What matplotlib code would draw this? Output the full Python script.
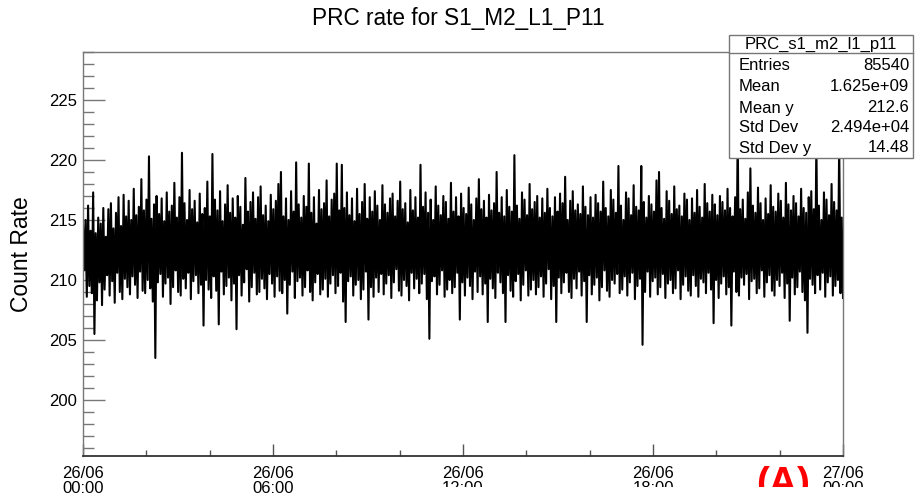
import matplotlib
matplotlib.use('Agg')
import matplotlib.pyplot as plt
import matplotlib.dates as mdates
from matplotlib.patches import Rectangle
from datetime import datetime

plt.rcParams['font.family'] = ['Liberation Sans', 'DejaVu Sans']

# PRC count rate (600 samples over the day)
count_rate = [
    214.6, 210.8, 215.0, 208.6, 216.2, 209.5, 214.1, 208.9, 217.3, 205.5, 213.9, 208.3, 215.2, 209.8, 214.7, 207.9, 216.0, 209.2, 213.6, 210.4,
    215.9, 208.7, 216.4, 209.9, 214.3, 208.1, 215.6, 210.6, 216.9, 209.0, 214.5, 208.4, 217.1, 210.1, 215.3, 209.4, 216.6, 208.8, 215.0, 210.3,
    217.6, 209.6, 215.4, 208.5, 216.1, 210.7, 218.4, 209.1, 215.8, 208.9, 216.7, 210.0, 220.3, 209.3, 215.1, 208.2, 216.3, 203.5, 217.0, 209.8,
    215.5, 210.5, 216.8, 208.6, 214.9, 209.7, 217.3, 210.2, 215.7, 208.0, 216.2, 209.4, 218.1, 210.8, 215.2, 209.0, 216.9, 208.7, 220.6, 210.1,
    216.4, 209.3, 215.0, 210.6, 217.5, 208.4, 215.9, 209.9, 216.6, 210.4, 214.8, 208.9, 217.2, 209.6, 215.5, 206.2, 216.0, 210.0, 218.2, 209.2,
    215.3, 208.5, 220.5, 210.3, 216.7, 209.1, 215.8, 206.3, 217.4, 210.7, 214.9, 208.8, 216.3, 209.5, 217.9, 210.2, 215.6, 208.3, 216.8, 209.7,
    215.2, 205.9, 217.0, 210.4, 216.1, 208.7, 214.6, 209.8, 218.5, 210.9, 215.7, 208.2, 216.5, 209.4, 217.3, 210.6, 215.1, 208.8, 216.9, 209.0,
    217.8, 210.1, 215.4, 209.3, 216.2, 208.4, 214.9, 210.5, 217.1, 209.7, 215.9, 208.6, 216.6, 210.3, 218.0, 209.1, 219.0, 208.9, 215.3, 210.0,
    216.8, 207.2, 215.0, 209.6, 217.4, 210.7, 215.7, 208.5, 219.8, 209.9, 216.3, 210.2, 215.2, 208.7, 217.0, 209.4, 216.1, 210.8, 219.7, 209.0,
    215.6, 208.3, 216.9, 209.8, 214.7, 210.5, 217.5, 208.8, 215.9, 209.2, 216.4, 210.1, 218.3, 208.6, 215.3, 209.7, 216.7, 210.4, 217.2, 208.9,
    219.7, 209.5, 215.8, 210.6, 219.6, 208.2, 216.0, 206.5, 217.3, 209.9, 215.4, 210.3, 216.8, 208.7, 214.9, 209.6, 217.6, 210.0, 215.5, 208.4,
    216.5, 209.2, 218.0, 210.7, 215.1, 206.7, 216.9, 209.4, 215.7, 208.6, 217.4, 210.2, 216.2, 209.0, 215.0, 210.5, 217.9, 208.8, 216.3, 209.7,
    215.6, 210.4, 216.8, 208.5, 217.2, 209.8, 215.3, 210.9, 216.6, 209.1, 218.2, 208.7, 215.9, 210.0, 216.4, 209.5, 214.8, 208.3, 217.5, 210.6,
    215.8, 209.3, 216.9, 210.1, 215.2, 208.9, 219.6, 209.7, 216.1, 210.5, 217.3, 208.4, 215.6, 205.1, 216.7, 209.9, 215.0, 210.3, 217.8, 208.8,
    216.2, 209.6, 215.4, 210.8, 217.0, 208.6, 216.5, 209.2, 215.1, 210.0, 218.1, 208.9, 215.7, 209.4, 216.9, 210.6, 215.3, 206.7, 217.2, 209.8,
    216.0, 208.7, 215.5, 210.2, 217.7, 209.5, 216.3, 208.4, 215.0, 210.7, 216.8, 209.0, 218.4, 210.3, 215.9, 208.8, 216.6, 209.7, 215.2, 206.5,
    217.1, 210.1, 215.8, 209.3, 216.4, 208.5, 219.0, 210.6, 215.6, 209.8, 216.9, 208.9, 215.3, 206.5, 217.5, 210.4, 216.1, 209.1, 215.7, 208.6,
    220.4, 209.9, 216.2, 210.5, 215.1, 208.3, 217.3, 209.6, 216.7, 210.8, 215.4, 208.7, 218.0, 209.2, 215.9, 210.0, 216.5, 208.8, 217.0, 209.4,
    215.2, 210.3, 216.8, 208.6, 215.6, 209.7, 217.6, 210.9, 216.0, 208.4, 215.3, 209.5, 216.9, 206.5, 215.7, 210.2, 217.2, 208.9, 216.4, 209.8,
    218.6, 210.6, 215.0, 209.0, 216.6, 208.5, 217.4, 210.1, 215.8, 209.3, 216.3, 210.7, 215.5, 208.7, 217.8, 209.9, 216.1, 206.5, 215.4, 210.4,
    216.9, 208.8, 215.2, 209.6, 217.1, 210.2, 216.4, 208.3, 215.7, 209.4, 218.2, 210.8, 216.0, 209.1, 215.3, 208.6, 217.5, 210.0, 216.7, 209.7,
    215.6, 210.5, 219.5, 208.9, 216.2, 209.2, 215.0, 210.3, 217.3, 208.7, 216.8, 209.8, 215.4, 210.6, 217.9, 208.4, 216.1, 209.5, 215.8, 210.1,
    219.5, 204.6, 216.5, 209.0, 215.2, 210.7, 217.0, 208.6, 216.3, 209.9, 215.7, 210.2, 218.3, 208.8, 219.0, 209.4, 216.0, 210.5, 215.1, 208.5,
    217.4, 209.7, 216.6, 210.0, 215.5, 208.9, 217.8, 209.3, 215.9, 210.8, 216.2, 208.4, 215.3, 209.6, 217.2, 210.3, 216.7, 209.1, 215.0, 208.7,
    216.8, 210.4, 215.6, 209.5, 217.5, 208.6, 216.1, 210.1, 215.2, 209.8, 218.0, 208.9, 216.4, 210.6, 215.7, 209.2, 217.1, 206.4, 216.3, 210.0,
    215.4, 208.5, 217.0, 209.7, 216.5, 210.3, 215.8, 208.8, 217.6, 209.4, 216.0, 206.2, 215.3, 210.7, 216.9, 209.0, 222.5, 208.7, 215.9, 210.2,
    216.7, 209.6, 215.1, 210.5, 217.3, 208.4, 219.3, 209.9, 216.2, 210.1, 215.6, 208.9, 217.7, 209.3, 216.4, 210.8, 215.0, 208.6, 216.8, 209.8,
    215.5, 210.4, 217.9, 209.1, 216.1, 208.7, 215.7, 210.0, 217.2, 209.5, 216.6, 210.6, 215.2, 208.5, 218.1, 209.7, 216.3, 206.6, 215.8, 210.2,
    217.0, 208.8, 216.4, 209.4, 215.3, 210.7, 217.6, 209.0, 216.0, 208.3, 215.6, 205.6, 216.9, 210.1, 217.4, 209.6, 215.9, 208.9, 221.5, 210.4,
    216.2, 209.2, 215.0, 210.6, 217.3, 208.6, 216.7, 209.8, 215.4, 210.3, 218.0, 208.7, 216.5, 209.5, 215.8, 210.0, 221.3, 208.9, 215.2, 208.5,
]

t_start = datetime(2021, 6, 26, 0, 0)
t_end = datetime(2021, 6, 27, 0, 0)
step = (t_end - t_start) / (len(count_rate) - 1)
times = [t_start + i * step for i in range(len(count_rate))]

stats_labels = ['Entries', 'Mean', 'Mean y', 'Std Dev', 'Std Dev y']
stats_values = ['85540', '1.625e+09', '212.6', '2.494e+04', '14.48']

fig = plt.figure(figsize=(9.15, 5.0), dpi=100)
W, H = 915.0, 500.0
ax = fig.add_axes([83 / W, 1 - 456 / H, 760 / W, 404 / H])

ax.plot(times, count_rate, color='black', lw=1.5)

ax.set_xlim(t_start, t_end)
ax.set_ylim(195.33, 229.0)

ax.xaxis.set_major_locator(mdates.HourLocator(byhour=[0, 6, 12, 18]))
ax.xaxis.set_minor_locator(mdates.HourLocator(interval=2))
ax.xaxis.set_major_formatter(mdates.DateFormatter('%d/%m\n%H:%M'))
ax.set_yticks([200, 205, 210, 215, 220, 225])
ax.yaxis.set_minor_locator(matplotlib.ticker.MultipleLocator(1))

ax.tick_params(axis='y', which='major', direction='in', length=16, width=1, color='#777777', labelsize=12, pad=4)
ax.tick_params(axis='y', which='minor', direction='in', length=8, width=1, color='#777777')
ax.tick_params(axis='x', which='major', direction='in', length=8.6, width=1, color='#555555', labelsize=12, pad=7)
ax.tick_params(axis='x', which='minor', direction='in', length=4.3, width=1, color='#555555')
for lab in ax.get_xticklabels():
    lab.set_linespacing(1.05)

for s in ['left', 'top', 'right']:
    ax.spines[s].set_color('#777777')
    ax.spines[s].set_linewidth(1.0)
ax.spines['bottom'].set_color('#333333')
ax.spines['bottom'].set_linewidth(1.3)

fig.text(458 / W, 1 - 18 / H, 'PRC rate for S1_M2_L1_P11', ha='center', va='center', fontsize=16.3)
fig.text(22 / W, 1 - 254 / H, 'Count Rate', ha='center', va='center', rotation=90, fontsize=16.5)

# stats box
bx0, bx1, by0, by1 = 729, 913, 35, 158
fig.patches.append(Rectangle((bx0 / W, 1 - by1 / H), (bx1 - bx0) / W, (by1 - by0) / H,
                             transform=fig.transFigure, facecolor='white', edgecolor='#777777',
                             lw=1.0, zorder=5))
fig.lines.append(plt.Line2D([bx0 / W, bx1 / W], [1 - 53 / H, 1 - 53 / H], transform=fig.transFigure,
                            color='#777777', lw=1.0, zorder=6))
fig.text((bx0 + bx1) / 2 / W, 1 - 44 / H, 'PRC_s1_m2_l1_p11', ha='center', va='center', fontsize=12, zorder=7)
row_y = [66, 87, 108, 128, 148]
for name, val, yy in zip(stats_labels, stats_values, row_y):
    fig.text(739 / W, 1 - yy / H, name, ha='left', va='center', fontsize=12, zorder=7)
    fig.text(909 / W, 1 - yy / H, val, ha='right', va='center', fontsize=12, zorder=7)

# red panel tag, cut by the lower edge of the picture as in the original
fig.text(783 / W, 1 - 484 / H, '(A)', ha='center', va='center', fontsize=28, fontweight='bold', color='red')

# the lower strip of the picture is cut off from the 12:00 label onwards
fig.patches.append(Rectangle((0.36, 0), 0.64, 13 / H, transform=fig.transFigure,
                             facecolor='white', edgecolor='none', zorder=20))

fig.savefig('out.png', dpi=100)
